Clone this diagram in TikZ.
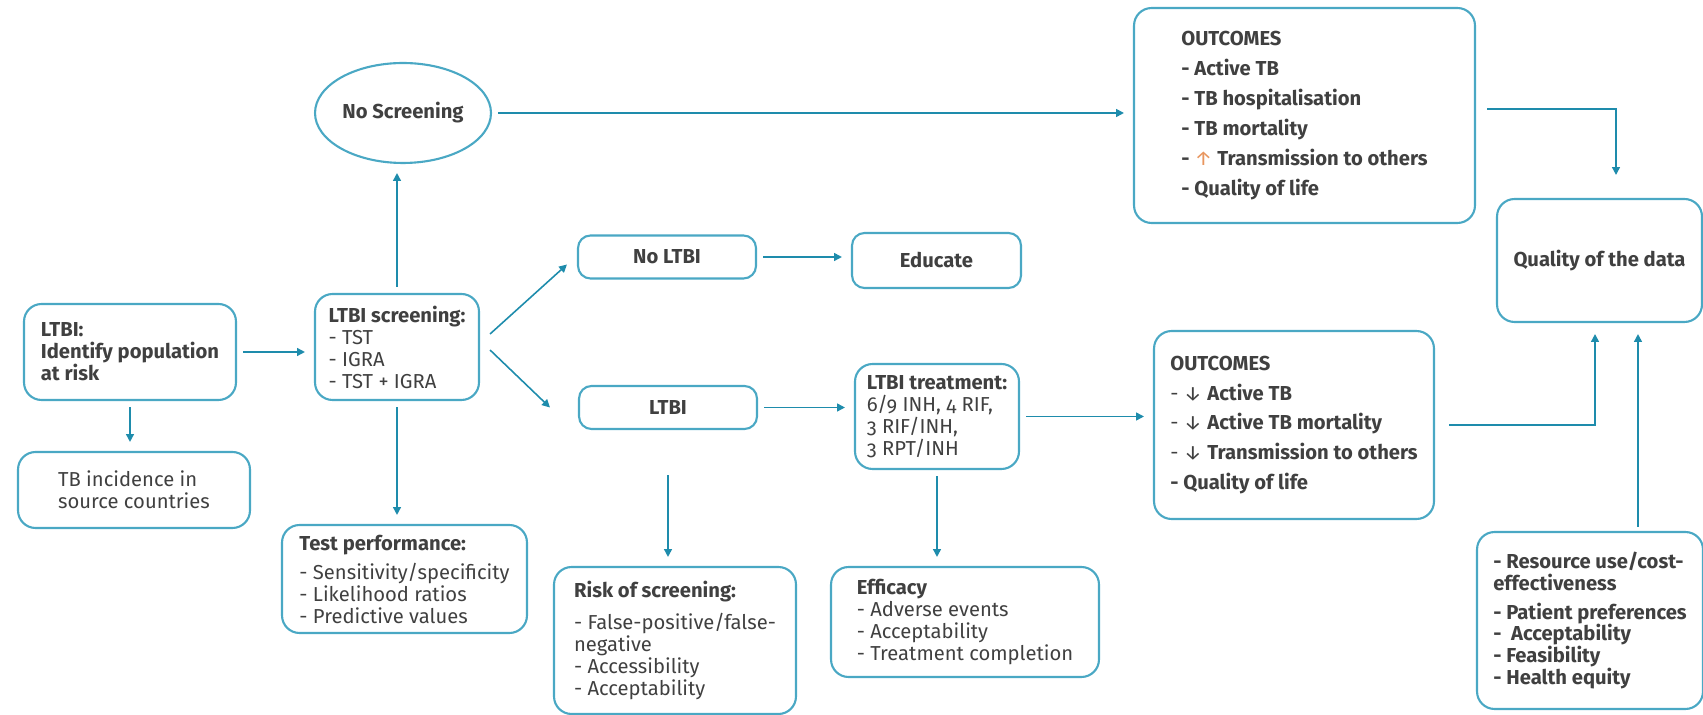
\documentclass[tikz,border=0pt]{standalone}
\usepackage{fontspec}
\setmainfont{Fira Sans}[Numbers=OldStyle]
\usetikzlibrary{arrows.meta,shapes.geometric}

\definecolor{boxline}{RGB}{74,168,196}
\definecolor{arrline}{RGB}{30,140,172}
\definecolor{txt}{RGB}{64,64,64}
\definecolor{upcol}{RGB}{232,150,95}
\newcommand{\boxfont}{\fontsize{11.5}{12.5}\selectfont}

\begin{document}
\begin{tikzpicture}[x=0.02cm, y=-0.02cm,
    box/.style={draw=boxline, line width=1.2pt, rounded corners=0.35cm, align=left, text=txt, inner sep=0pt, font=\boxfont},
    heavy/.style={font=\boxfont\bfseries},
    arr/.style={draw=arrline, line width=0.9pt, -{Triangle[length=4.5pt,width=4.5pt]}, shorten <=0.12cm, shorten >=0.18cm}]
    \useasboundingbox (0,0) rectangle (1703,715);

    % Population and screening
    \node[box, heavy, minimum width=4.24cm, minimum height=1.92cm] (ltbi) at (130,352) {LTBI:\\Identify population\\at risk};
    \node[box, minimum width=4.64cm, minimum height=1.52cm] (incid) at (134,490) {TB incidence in\\source countries};
    \node[box, minimum width=3.28cm, minimum height=2.12cm] (screen) at (397,347) {\textbf{LTBI screening:}\\- TST\\- IGRA\\- TST + IGRA};
    \node[box, heavy, ellipse, minimum width=3.52cm, minimum height=2cm] (noscreen) at (403,113) {No Screening};
    \node[box, minimum width=4.9cm, minimum height=2.16cm] (perf) at (404.5,579) {\textbf{Test performance:}\\[4pt]- Sensitivity/specificity\\- Likelihood ratios\\- Predictive values};

    % Results of the test
    \node[box, heavy, minimum width=3.56cm, minimum height=0.86cm, rounded corners=0.25cm] (noltbi) at (667,257) {No LTBI};
    \node[box, heavy, minimum width=3.38cm, minimum height=1.1cm, rounded corners=0.25cm] (educate) at (936.5,260.5) {Educate};
    \node[box, heavy, minimum width=3.56cm, minimum height=0.86cm, rounded corners=0.25cm] (pos) at (668,407.5) {LTBI};
    \node[box, minimum width=3.28cm, minimum height=2.1cm] (treat) at (937,416.5) {\textbf{LTBI treatment:}\\6/9 INH, 4 RIF,\\3 RIF/INH,\\3 RPT/INH};
    \node[box, minimum width=4.84cm, minimum height=2.94cm] (risk) at (675,640.5) {\textbf{Risk of screening:}\\[6pt]- False-positive/false-\\negative\\- Accessibility\\- Acceptability};
    \node[box, minimum width=5.36cm, minimum height=2.2cm] (effic) at (965,622) {\textbf{Efficacy}\\- Adverse events\\- Acceptability\\- Treatment completion};

    % Outcomes
    \node[box, heavy, minimum width=6.82cm, minimum height=4.3cm] (outA) at (1304.5,115.5) {OUTCOMES\\[4.5pt]- Active TB\\[4.5pt]- TB hospitalisation\\[4.5pt]- TB mortality\\[4.5pt]- {\color{upcol}\mdseries ↑} Transmission to others\\[4.5pt]- Quality of life};
    \node[box, minimum width=5.6cm, minimum height=3.76cm] (outB) at (1294,425) {\textbf{OUTCOMES}\\[4.5pt]- ↓ \textbf{Active TB}\\[4.5pt]- ↓ \textbf{Active TB mortality}\\[4.5pt]- ↓ \textbf{Transmission to others}\\[4.5pt]\textbf{- Quality of life}};
    \node[box, heavy, minimum width=4.1cm, minimum height=2.46cm] (quality) at (1599.5,260.5) {Quality of the data};
    \node[box, heavy, minimum width=4.52cm, minimum height=3.54cm] (other) at (1590,620.5) {- Resource use/cost-\\effectiveness\\[4pt]- Patient preferences\\-\ \ Acceptability\\- Feasibility\\- Health equity};

    % Arrows
    \draw[arr] (ltbi.east) -- (ltbi.east -| screen.west);
    \draw[arr] (ltbi.south) -- (ltbi.south |- incid.north);
    \draw[arr] (screen.north) -- (screen.north |- noscreen.south);
    \draw[arr] (screen.south) -- (screen.south |- perf.north);
    \draw[arr] (noscreen.east) -- (noscreen.east -| outA.west);
    \draw[arr, shorten <=0pt, shorten >=0pt] ([xshift=0.2cm,yshift=0.26cm]screen.east) -- ([xshift=-0.2cm,yshift=-0.15cm]noltbi.west);
    \draw[arr, shorten <=0pt, shorten >=0pt] ([xshift=0.2cm,yshift=-0.06cm]screen.east) -- ([xshift=-0.56cm]pos.west);
    \draw[arr] (noltbi.east) -- (noltbi.east -| educate.west);
    \draw[arr] (pos.east) -- (pos.east -| treat.west);
    \draw[arr, shorten <=0.9cm] (pos.south) -- (pos.south |- risk.north);
    \draw[arr] (treat.south) -- (treat.south |- effic.north);
    \draw[arr] (treat.east) -- (treat.east -| outB.west);

    % Into the quality box
    \coordinate (upfoot) at ([xshift=0.96cm]other.north);
    \draw[arr, shorten <=0.22cm, shorten >=0.46cm] ([yshift=0.13cm]outA.east) -| ([xshift=0.33cm]quality.north);
    \draw[arr, shorten <=0.28cm, shorten >=0.22cm] (outB.east) -| ([xshift=-0.09cm]quality.south);
    \draw[arr, shorten <=0.08cm, shorten >=0.22cm] (upfoot) -- (upfoot |- quality.south);
\end{tikzpicture}
\end{document}
